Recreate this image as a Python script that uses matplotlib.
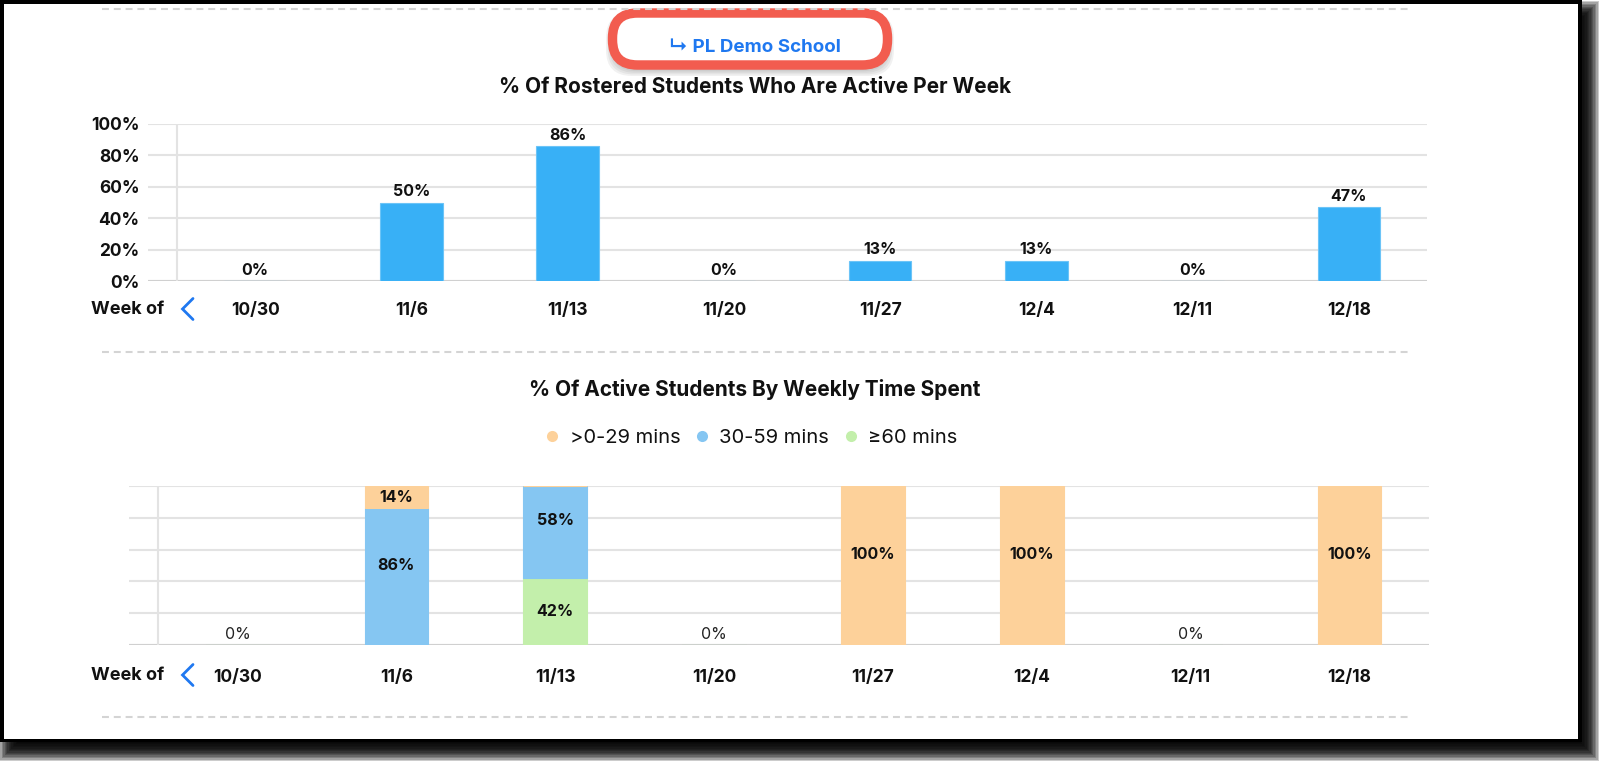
import matplotlib.pyplot as plt
import numpy as np
from matplotlib.patches import Rectangle, FancyBboxPatch
from matplotlib.lines import Line2D

plt.rcParams['font.family'] = ['Inter', 'DejaVu Sans']
plt.rcParams['lines.scale_dashes'] = False

# 数据
weeks = ['10/30', '11/6', '11/13', '11/20', '11/27', '12/4', '12/11', '12/18']
active_pct = [0, 50, 86, 0, 13, 13, 0, 47]
mins_0_29 = [0, 14, 0, 0, 100, 100, 0, 100]
mins_30_59 = [0, 86, 58, 0, 0, 0, 0, 0]
mins_60 = [0, 0, 42, 0, 0, 0, 0, 0]
y_ticks = [0, 20, 40, 60, 80, 100]

W, H = 1602, 764
TXT = '#111111'
GRID = '#e3e3e3'
BLUE_TXT = '#1f78f0'

fig = plt.figure(figsize=(W / 100, H / 100), dpi=100)


def px_axes(left, top, right, bottom, **kw):
    # 以像素为单位放置坐标轴
    return fig.add_axes([left / W, 1 - bottom / H, (right - left) / W, (bottom - top) / H], **kw)


# 背景层：截图外框、阴影、分隔线、标题
bg = px_axes(0, 0, W, H, zorder=0)
bg.set_xlim(0, W)
bg.set_ylim(H, 0)
bg.axis('off')

# 外框阴影（多层叠加模拟模糊）
for d in np.linspace(9, -9, 14):
    bg.add_patch(Rectangle((8 - d, 10 - d), 1582 + 2 * d, 742 + 2 * d,
                           fc='black', ec='none', alpha=0.2))
bg.add_patch(Rectangle((0, 0), 1582, 742, fc='black', ec='none'))
bg.add_patch(Rectangle((3.5, 3.5), 1574.5, 735.5, fc='white', ec='none'))

# 虚线分隔
for yy in [8.5, 351.5, 716.5]:
    bg.plot([102, 1408], [yy, yy], color='#d4d4d4', lw=1.5, ls=(0, (5, 3.5)))

# 红色圆角框 + 阴影
for d in np.linspace(6, -2, 6):
    bg.add_patch(FancyBboxPatch((612 - d, 18 - d), 276 + 2 * d, 52 + 2 * d,
                                boxstyle='round,pad=0,rounding_size=26',
                                fc='#555555', ec='none', alpha=0.08))
bg.add_patch(FancyBboxPatch((612.5, 13), 275, 52,
                            boxstyle='round,pad=0,rounding_size=25',
                            fc='white', ec='#f25c4f', lw=6.8))
bg.text(755, 47, '↳ PL Demo School', color=BLUE_TXT, fontsize=13.5,
        fontweight='bold', ha='center', va='center')

bg.text(755, 87, '% Of Rostered Students Who Are Active Per Week', color=TXT,
        fontsize=15, fontweight='bold', ha='center', va='center')
bg.text(755, 389, '% Of Active Students By Weekly Time Spent', color=TXT,
        fontsize=15, fontweight='bold', ha='center', va='center')

# "Week of" 与蓝色箭头
for yc in [309, 675]:
    bg.text(91, yc, 'Week of', color=TXT, fontsize=13, fontweight='bold',
            ha='left', va='center')
    bg.plot([193, 182.5, 193], [yc - 10.5, yc, yc + 10.5], color=BLUE_TXT,
            lw=2, solid_capstyle='round', solid_joinstyle='miter')

x = np.arange(len(weeks))


def style_axes(ax, n_left):
    ax.set_facecolor('none')
    for s in ax.spines.values():
        s.set_visible(False)
    ax.set_xlim(-0.5 - n_left, 7.5)
    ax.set_ylim(0, 100)
    ax.set_yticks(y_ticks)
    ax.set_axisbelow(True)
    ax.yaxis.grid(True, color=GRID, lw=1.5)
    ax.axhline(0, color='#d0d0d0', lw=1.5, zorder=1)
    ax.axvline(-0.5, color=GRID, lw=1.5, zorder=1)
    ax.set_xticks(x)
    ax.tick_params(length=0)


# 上图：活跃学生比例
ax1 = px_axes(148, 124, 1427, 281, zorder=2)
style_axes(ax1, 29 / 156.3)
ax1.bar(x, active_pct, width=0.4, color='#38b0f6', edgecolor='#6cc4f7', lw=0.8, zorder=3)
ax1.set_yticklabels([f'{v}%' for v in y_ticks], fontsize=12.5, fontweight='bold', color=TXT)
ax1.set_xticklabels(weeks, fontsize=12.5, fontweight='bold', color=TXT)
ax1.tick_params(axis='y', pad=6)
ax1.tick_params(axis='x', pad=15)
for xi, v in zip(x, active_pct):
    ax1.annotate(f'{v}%', (xi, v), xytext=(0, 2.5), textcoords='offset points',
                 ha='center', va='bottom', fontsize=11.5, fontweight='bold', color=TXT)

# 下图：按每周时长分布
ax2 = px_axes(129, 486, 1429, 645, zorder=2)
style_axes(ax2, 29 / 158.9)
ax2.set_yticklabels([])
ax2.set_xticklabels(weeks, fontsize=12.5, fontweight='bold', color=TXT)
ax2.tick_params(axis='x', pad=17.5)

series = [('≥60 mins', mins_60, '#c3efab'),
          ('30-59 mins', mins_30_59, '#85c6f2'),
          ('>0-29 mins', mins_0_29, '#fdd19a')]
bottom = np.zeros(len(weeks))
for name, vals, col in series:
    vals = np.array(vals, dtype=float)
    ax2.bar(x, vals, width=0.4, bottom=bottom, color=col, edgecolor=col, lw=0.8, zorder=3)
    for xi, b, v in zip(x, bottom, vals):
        if v > 0:
            # 高段标签略偏上，与原图一致
            yl = b + v / 2 + (7 if v >= 50 else 0)
            ax2.text(xi, yl, f'{v:.0f}%', ha='center', va='center',
                     fontsize=11.5, fontweight='bold', color=TXT, zorder=4)
    bottom += vals
for xi, tot in zip(x, bottom):
    if tot == 0:
        ax2.annotate('0%', (xi, 0), xytext=(0, 2.5), textcoords='offset points',
                     ha='center', va='bottom', fontsize=11.5, color='#222222')

# 图例
handles = [Line2D([], [], ls='none', marker='o', ms=8, mec='none', mfc=c, label=n)
           for n, _, c in series[::-1]]
fig.legend(handles=handles, loc='center', bbox_to_anchor=(750 / W, 1 - 438 / H),
           ncol=3, frameon=False, fontsize=14.5, handletextpad=0.35,
           columnspacing=0.6, handlelength=1.0, labelcolor=TXT)

fig.savefig('out.png', dpi=100)
